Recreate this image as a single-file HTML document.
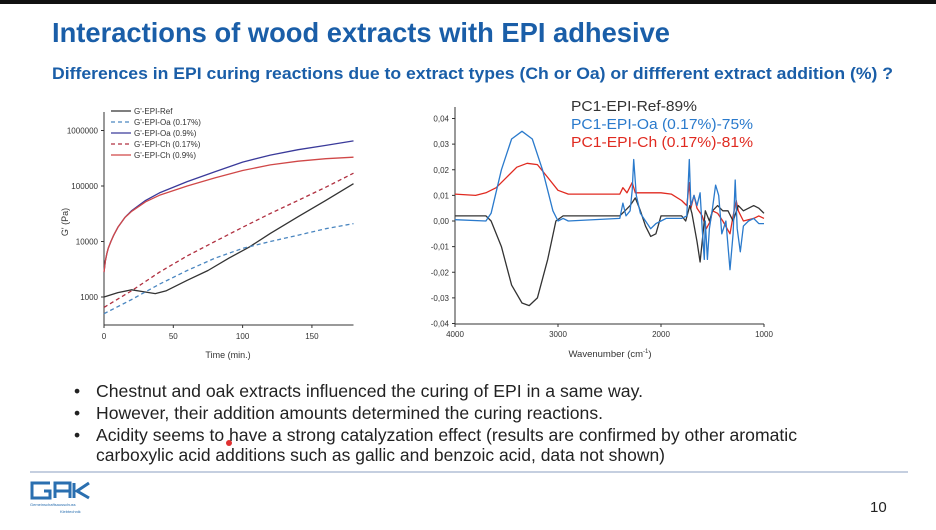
<!DOCTYPE html>
<html><head><meta charset="utf-8"><style>
html,body{margin:0;padding:0;background:#fff;}
svg{display:block;font-family:"Liberation Sans",sans-serif;}
.nar{font-family:"Liberation Sans Narrow","Liberation Sans",sans-serif;}
</style></head><body>
<svg id="page" width="936" height="530" viewBox="0 0 936 530">
<rect x="0" y="0" width="936" height="4" fill="#111"/>
<text class="nar" x="52" y="42" font-size="28" font-weight="bold" fill="#1a5ea8" textLength="618" lengthAdjust="spacingAndGlyphs">Interactions of wood extracts with EPI adhesive</text>
<text class="nar" x="52" y="79" font-size="16.5" font-weight="bold" fill="#1a5ea8" textLength="841" lengthAdjust="spacingAndGlyphs">Differences in EPI curing reactions due to extract types (Ch or Oa) or diffferent extract addition (%) ?</text>

<g id="left"></g>
<g id="right"></g>

<g class="nar" font-size="17.5" fill="#222">
<text x="74" y="397">•</text>
<text x="96" y="397" textLength="547" lengthAdjust="spacingAndGlyphs">Chestnut and oak extracts influenced the curing of EPI in a same way.</text>
<text x="74" y="419">•</text>
<text x="96" y="419" textLength="507" lengthAdjust="spacingAndGlyphs">However, their addition amounts determined the curing reactions.</text>
<text x="74" y="441">•</text>
<text x="96" y="441" textLength="701" lengthAdjust="spacingAndGlyphs">Acidity seems to have a strong catalyzation effect (results are confirmed by other aromatic</text>
<text x="96" y="461" textLength="569" lengthAdjust="spacingAndGlyphs">carboxylic acid additions such as gallic and benzoic acid, data not shown)</text>
</g>
<circle cx="229" cy="443" r="3" fill="#e03030"/>
<line x1="30" y1="472" x2="908" y2="472" stroke="#c5cfe0" stroke-width="2"/>
<g fill="none" stroke="#2a6fb0" stroke-width="3">
<path d="M50 483 H32 V498 H50 V491 H44"/>
<path d="M55 498 V483 H70 V498 M55 491 H70"/>
<path d="M74 483 V498 M89 483 L77 491 L89 498"/>
<text x="30" y="506" font-size="4" fill="#2a6fb0" stroke="none">Gemeinschaftsausschuss</text>
<text x="60" y="513" font-size="4" fill="#2a6fb0" stroke="none">Klebtechnik</text>
</g>
<text x="870" y="512" font-size="15" fill="#222">10</text>
</svg>
<script>
// ---- Left chart data (time in min, G' in Pa) ----
const refT=[0,10,20,28,37,45,60,75,90,105,120,140,160,180];
const refG=[1000,1200,1350,1250,1150,1300,2000,3000,5000,8000,14000,28000,55000,110000];
const oa17T=[0,20,40,60,80,100,120,140,160,180];
const oa17G=[500,900,1700,3000,5000,7500,10000,13000,17000,21000];
const ch17T=[0,20,40,60,80,100,120,140,160,180];
const ch17G=[650,1300,2800,5500,10000,18000,32000,55000,95000,170000];
const oa9T=[0,1,2,3,5,7,10,15,20,30,40,60,80,100,120,140,160,180];
const oa9G=[2800,4500,6000,7500,10000,13000,18000,27000,36000,55000,75000,120000,180000,270000,360000,450000,540000,650000];
const ch9T=[0,1,2,3,5,7,10,15,20,30,40,60,80,100,120,140,160,180];
const ch9G=[2800,4500,6000,7500,10000,13000,18000,27000,35000,52000,68000,100000,140000,190000,240000,280000,310000,330000];
const xTicksL=[0,50,100,150];
const yTicksL=[1000,10000,100000,1000000];
const legendLabels=["G'-EPI-Ref","G'-EPI-Oa (0.17%)","G'-EPI-Oa (0.9%)","G'-EPI-Ch (0.17%)","G'-EPI-Ch (0.9%)"];

// ---- Right chart data (wavenumber, PC1 loading) ----
const refW=[4000,3700,3650,3550,3450,3350,3280,3200,3100,3020,2950,2400,2350,2300,2250,2200,2150,2100,2050,2000,1800,1760,1720,1700,1650,1620,1600,1570,1530,1500,1450,1400,1350,1300,1250,1200,1100,1050,1000];
const refV=[0.002,0.002,0,-0.01,-0.025,-0.032,-0.033,-0.03,-0.015,0,0.002,0.002,0.004,0.006,0.009,0.004,-0.002,-0.006,-0.005,0.002,0.002,0,0.006,0.003,-0.008,-0.016,-0.008,0.004,0,0.004,0.006,0.004,0.004,0,0.006,0.004,0.006,0.005,0.003];
const oaW=[4000,3700,3650,3550,3450,3350,3250,3150,3050,3000,2950,2900,2400,2370,2340,2300,2280,2265,2240,2200,2150,2100,2050,2000,1950,1800,1750,1725,1710,1680,1650,1620,1600,1580,1570,1550,1530,1500,1470,1440,1410,1370,1330,1300,1280,1260,1230,1200,1150,1100,1050,1000];
const oaV=[0.0005,0,0.003,0.02,0.032,0.035,0.032,0.02,0.004,0,0.001,0,0.001,0.007,0.002,0.004,0.012,0.024,0.01,0.003,0,-0.003,-0.001,0,0.001,0.001,0.002,0.024,0.006,0.01,0.006,0.011,-0.003,-0.015,0,-0.015,-0.003,0.005,0.014,0.01,-0.005,0,-0.019,-0.005,0.016,-0.003,-0.012,-0.002,0,0.001,-0.001,-0.001];
const chW=[4000,3800,3700,3600,3500,3400,3300,3200,3100,3000,2900,2400,2370,2330,2280,2250,2100,2000,1900,1800,1750,1725,1710,1680,1650,1600,1560,1520,1500,1450,1400,1330,1300,1270,1250,1200,1100,1050,1000];
const chV=[0.0105,0.010,0.011,0.013,0.017,0.021,0.0225,0.022,0.017,0.012,0.0105,0.0105,0.013,0.011,0.015,0.011,0.011,0.011,0.0105,0.008,0.006,0.015,0.005,0.01,0.005,0.002,-0.003,0,0.004,0.003,0,-0.005,0.002,0.008,0.004,0,0.001,0.002,0.001];
const xTicksR=[4000,3000,2000,1000];
const yTicksR=[-0.04,-0.03,-0.02,-0.01,0,0.01,0.02,0.03,0.04];
const legendR=["PC1-EPI-Ref-89%","PC1-EPI-Oa (0.17%)-75%","PC1-EPI-Ch (0.17%)-81%"];

const NS="http://www.w3.org/2000/svg";
function mk(parent,tag,attrs,text){const e=document.createElementNS(NS,tag);for(const k in attrs)e.setAttribute(k,attrs[k]);if(text!==undefined)e.textContent=text;parent.appendChild(e);return e;}

// Left axes
const L={x0:104,x1:353.5,yTop:112,yBot:325};
const xL=t=>104+t*(249.5/180);
const yL=v=>297-(Math.log10(v)-3)*55.5;
const gL=document.getElementById('left');
let e;
e=mk(gL,'path',{d:`M${L.x0} ${L.yTop} V${L.yBot} H${L.x1}`,fill:'none',stroke:'#333','stroke-width':1});


xTicksL.forEach(t=>{const x=xL(t);mk(gL,'line',{x1:x,y1:L.yBot,x2:x,y2:L.yBot+3,stroke:'#333'});
 e=mk(gL,'text',{x:x,y:L.yBot+14,'font-size':8,'text-anchor':'middle',fill:'#333'},String(t));
 
 });
yTicksL.forEach(v=>{const y=yL(v);mk(gL,'line',{x1:L.x0-3,y1:y,x2:L.x0,y2:y,stroke:'#333'});
 e=mk(gL,'text',{x:L.x0-6,y:y+3,'font-size':8,'text-anchor':'end',fill:'#333'},String(v));
 
 });
e=mk(gL,'text',{x:228,y:358,'font-size':9,'text-anchor':'middle',fill:'#333'},'Time (min.)');


e=mk(gL,'text',{x:0,y:0,'font-size':9,'text-anchor':'middle',fill:'#333',transform:'translate(68 222) rotate(-90)'},"G' (Pa)");


const sL=[[refT,refG,'#333',''],[oa17T,oa17G,'#4a86c0','4 3'],[oa9T,oa9G,'#3a3a9a',''],[ch17T,ch17G,'#b03040','4 3'],[ch9T,ch9G,'#d04848','']];
const sLnames=['series-ref','series-oa-017','series-oa-09','series-ch-017','series-ch-09'];
sL.forEach((s,i)=>{const d=s[0].map((t,j)=>(j?'L':'M')+xL(t).toFixed(1)+' '+yL(s[1][j]).toFixed(1)).join(' ');
 e=mk(gL,'path',{d:d,fill:'none',stroke:s[2],'stroke-width':1.3,'stroke-dasharray':s[3],'stroke-linejoin':'round'});
 
 
 const ly=111+i*11;
 mk(gL,'line',{x1:111,y1:ly,x2:131,y2:ly,stroke:s[2],'stroke-width':1.3,'stroke-dasharray':s[3]});
 e=mk(gL,'text',{x:134,y:ly+3,'font-size':8,fill:'#333'},legendLabels[i]);
 
 });

// Right axes
const R={x0:455,x1:764,yTop:107,yBot:324};
const xR=w=>455+(4000-w)*(309/3000);
const yR=v=>221-v*(102.5/0.04);
const gR=document.getElementById('right');
e=mk(gR,'path',{d:`M${R.x0} ${R.yTop} V${R.yBot} H${R.x1}`,fill:'none',stroke:'#333','stroke-width':1});


xTicksR.forEach(w=>{const x=xR(w);mk(gR,'line',{x1:x,y1:R.yBot,x2:x,y2:R.yBot+3,stroke:'#333'});
 e=mk(gR,'text',{x:x,y:R.yBot+13,'font-size':8,'text-anchor':'middle',fill:'#333'},String(w));
 
 });
yTicksR.forEach(v=>{const y=yR(v);mk(gR,'line',{x1:R.x0-3,y1:y,x2:R.x0,y2:y,stroke:'#333'});
 e=mk(gR,'text',{x:R.x0-6,y:y+3,'font-size':8,'text-anchor':'end',fill:'#333'},v.toFixed(2).replace('.',','));
 
 });
e=mk(gR,'text',{x:610,y:357,'font-size':9.5,'text-anchor':'middle',fill:'#333'});
e.innerHTML='Wavenumber (cm<tspan font-size="6" dy="-4">-1</tspan><tspan dy="4">)</tspan>';


const sR=[[refW,refV,'#333'],[oaW,oaV,'#2a7acc'],[chW,chV,'#e02a20']];
const sRnames=['series-ref','series-oa','series-ch'];
[2,0,1].forEach(i=>{const s=sR[i];const d=s[0].map((w,j)=>(j?'L':'M')+xR(w).toFixed(1)+' '+yR(s[1][j]).toFixed(1)).join(' ');
 e=mk(gR,'path',{d:d,fill:'none',stroke:s[2],'stroke-width':1.3,'stroke-linejoin':'round'});
 
 });
const lw=[126,182,182];
sR.forEach((s,i)=>{e=mk(gR,'text',{x:571,y:111+i*18,'font-size':14.5,fill:s[2],textLength:lw[i],lengthAdjust:'spacingAndGlyphs'},legendR[i]);
 
 });
</script>
</body></html>
